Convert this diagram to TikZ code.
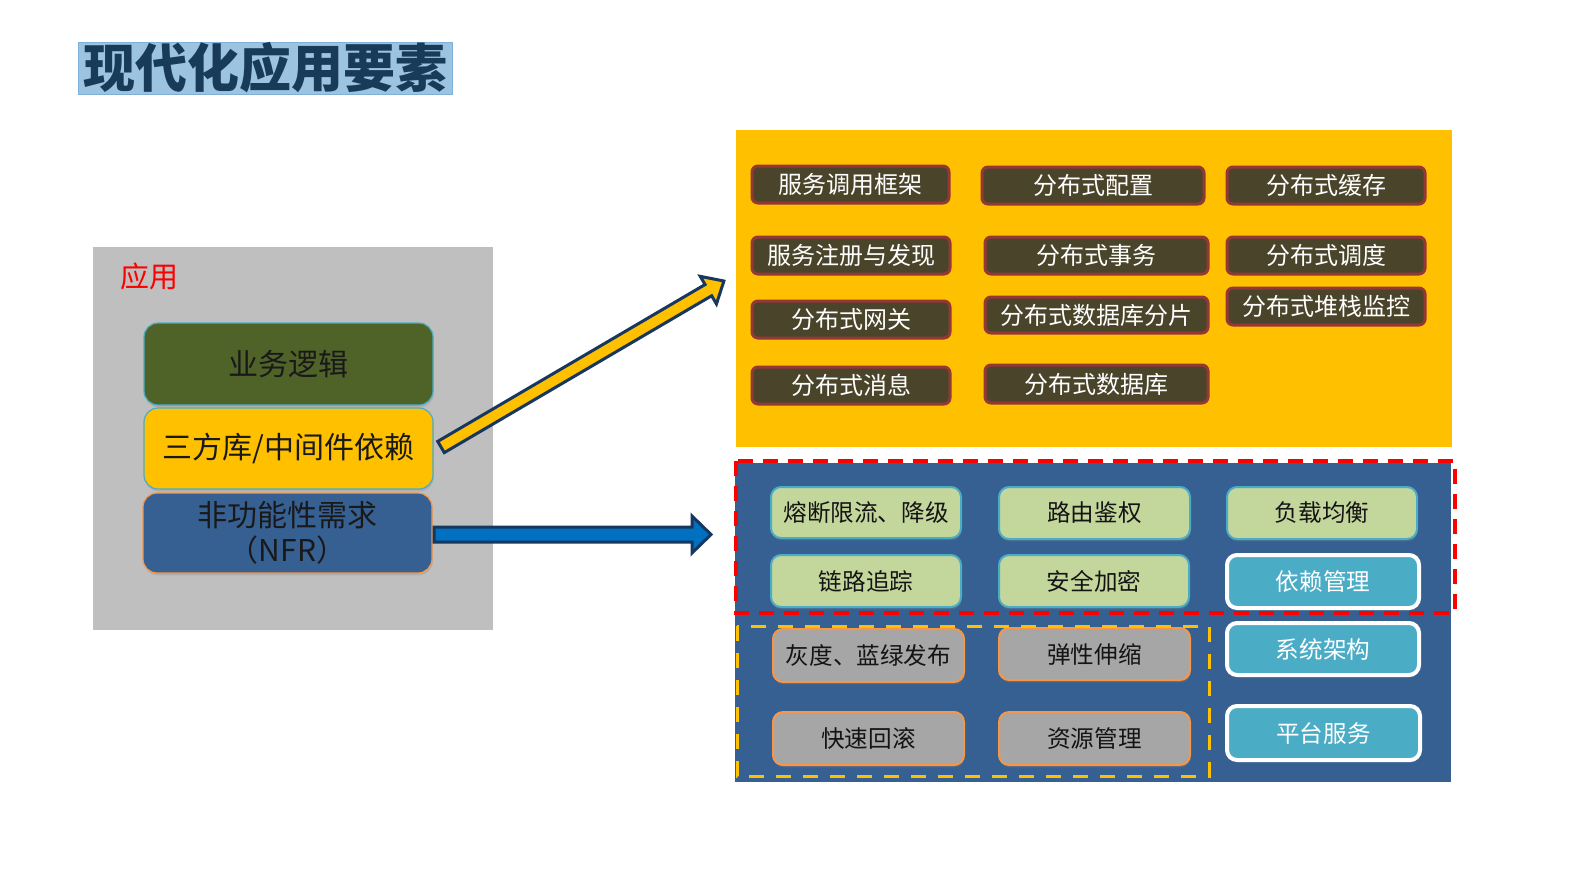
\documentclass[tikz,border=0pt]{standalone}
\usepackage{fontspec}
\setmainfont{Noto Sans CJK SC}
\usetikzlibrary{shadows}
\definecolor{cTitleBg}{HTML}{9CC3E0}
\definecolor{cTitleBd}{HTML}{7EB0D8}
\definecolor{cTitleTx}{HTML}{183B5A}
\definecolor{cGrayPanel}{HTML}{BFBFBF}
\definecolor{cOlive}{HTML}{4F6228}
\definecolor{cTeal}{HTML}{4BACC6}
\definecolor{cGold}{HTML}{FFC000}
\definecolor{cSteel}{HTML}{366092}
\definecolor{cOrange}{HTML}{F79646}
\definecolor{cBrownBox}{HTML}{4A452A}
\definecolor{cBrownBd}{HTML}{953735}
\definecolor{cLightGreen}{HTML}{C3D69B}
\definecolor{cMidGray}{HTML}{A6A6A6}
\definecolor{cNavy}{HTML}{17375E}
\definecolor{cArrowBlue}{HTML}{0070C0}
\newcommand{\mkbox}[7]{\node[#2, minimum width={(#5-#3-2)*0.5pt}, minimum height={(#6-#4-2)*0.5pt}] (#1) at ({(#3+#5)/2},{(#4+#6)/2}) {#7};}
\begin{document}
\begin{tikzpicture}[x=0.5pt,y=-0.5pt,
  panel/.style={draw=none},
  leftbox/.style={rounded corners=7pt, inner sep=0pt, line width=0.6pt, text=black!90,
     font=\fontsize{15pt}{17.5pt}\selectfont, align=center,
     drop shadow={shadow xshift=0.4pt, shadow yshift=-1.2pt, opacity=0.25}},
  topbox/.style={rounded corners=3pt, inner sep=0pt, draw=cBrownBd, line width=1.5pt, fill=cBrownBox,
     text=white, font=\fontsize{12pt}{14pt}\selectfont},
  nfrbox/.style={rounded corners=5pt, inner sep=0pt, line width=1pt, text=black!92,
     font=\fontsize{11.8pt}{14pt}\selectfont,
     drop shadow={shadow xshift=0.4pt, shadow yshift=-1.2pt, opacity=0.3}},
  greenbox/.style={nfrbox, fill=cLightGreen, draw=cTeal},
  graybox/.style={nfrbox, fill=cMidGray, draw=cOrange},
  cyanbox/.style={nfrbox, fill=cTeal, draw=white, line width=2pt, text=white},
  arrowline/.style={draw=cNavy, line width=1.5pt, line join=miter},
  reddash/.style={draw=red, line width=2pt, dash pattern=on 7.5pt off 5pt},
  golddash/.style={draw=cGold, line width=1.5pt, dash pattern=on 7.5pt off 6pt}]
\useasboundingbox (0,0) rectangle (1594,895);
\fill[white] (0,0) rectangle (1594,895);

% title
\node[fill=cTitleBg, draw=cTitleBd, line width=0.5pt, inner sep=0pt,
  minimum width=187pt, minimum height=26pt, text=cTitleTx,
  font=\fontsize{26pt}{28pt}\selectfont\bfseries] (title) at (265.5,68) {现代化应用要素};

% left panel
\fill[cGrayPanel] (93,247) rectangle (493,630);
\node[text=red, font=\fontsize{14.5pt}{16pt}\selectfont, inner sep=0pt] (app) at (149,276) {应用};
\mkbox{biz}{leftbox, fill=cOlive, draw=cTeal}{143}{322}{434}{406}{业务逻辑}
\mkbox{lib}{leftbox, fill=cGold, draw=cTeal}{143}{407}{434}{490}{三方库/中间件依赖}
\mkbox{nfr}{leftbox, fill=cSteel, draw=cOrange}{142}{492}{433}{574}{非功能性需求\\（NFR）}

% yellow panel
\fill[cGold] (736,130) rectangle (1452,447);
\mkbox{a1}{topbox}{751}{165}{950}{204}{服务调用框架}
\mkbox{a2}{topbox}{981}{166}{1205}{205}{分布式配置}
\mkbox{a3}{topbox}{1226}{166}{1426}{205}{分布式缓存}
\mkbox{b1}{topbox}{751}{236}{951}{275}{服务注册与发现}
\mkbox{b2}{topbox}{984}{236}{1209}{275}{分布式事务}
\mkbox{b3}{topbox}{1226}{236}{1426}{275}{分布式调度}
\mkbox{c1}{topbox}{751}{300}{951}{339}{分布式网关}
\mkbox{c2}{topbox}{984}{296}{1209}{334}{分布式数据库分片}
\mkbox{c3}{topbox}{1226}{287}{1426}{326}{分布式堆栈监控}
\mkbox{d1}{topbox}{751}{366}{951}{405}{分布式消息}
\mkbox{d2}{topbox}{984}{364}{1209}{404}{分布式数据库}

% blue panel
\fill[cSteel] (735,463) rectangle (1451,782);
\mkbox{e1}{greenbox}{770}{486}{962}{539}{熔断限流、降级}
\mkbox{e2}{greenbox}{998}{486}{1191}{540}{路由鉴权}
\mkbox{e3}{greenbox}{1226}{486}{1418}{540}{负载均衡}
\mkbox{f1}{greenbox}{770}{554}{962}{608}{链路追踪}
\mkbox{f2}{greenbox}{998}{554}{1190}{608}{安全加密}
\mkbox{f3}{cyanbox}{1226}{554}{1420}{609}{依赖管理}
\mkbox{g1}{graybox}{772}{628}{965}{683}{灰度、蓝绿发布}
\mkbox{g2}{graybox}{998}{627}{1191}{681}{弹性伸缩}
\mkbox{g3}{cyanbox}{1226}{622}{1420}{676}{系统架构}
\mkbox{h1}{graybox}{772}{711}{965}{766}{快速回滚}
\mkbox{h2}{graybox}{998}{711}{1191}{766}{资源管理}
\mkbox{h3}{cyanbox}{1226}{705}{1421}{761}{平台服务}

% dashed groups
\draw[reddash] (736,461) rectangle (1455,613);
\draw[golddash] (737,626) rectangle (1209,776);

% arrows
\coordinate (ytail) at (441,447);
\draw[arrowline, fill=cGold, shift={(ytail)}, rotate=30.4]
  (0,6.5) -- (310,6.5) -- (310,16) -- (328,0) -- (310,-16) -- (310,-6.5) -- (0,-6.5) -- cycle;
\draw[arrowline, fill=cArrowBlue]
  (434,527) -- (692,527) -- (692,516) -- (711,534.5) -- (692,553) -- (692,542) -- (434,542) -- cycle;
\end{tikzpicture}
\end{document}
